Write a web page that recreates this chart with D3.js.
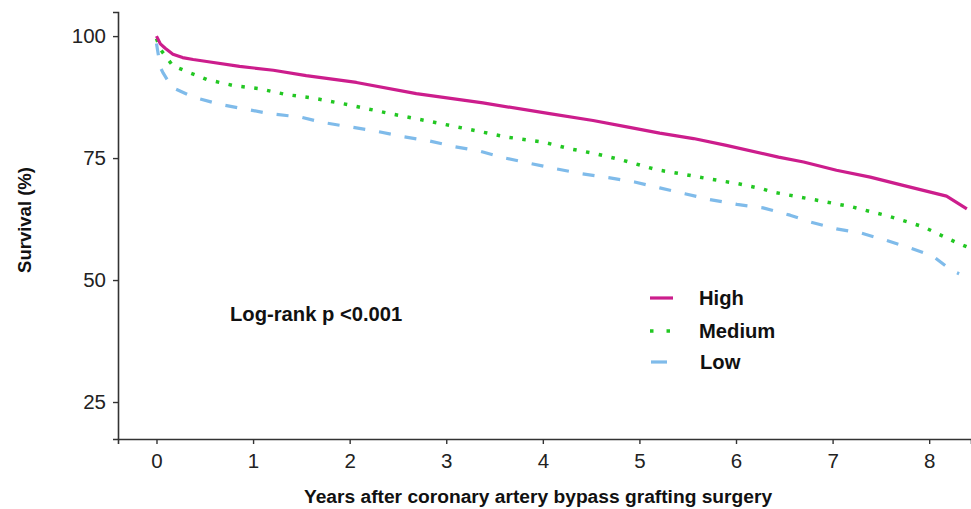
<!DOCTYPE html>
<html>
<head>
<meta charset="utf-8">
<script src="https://cdn.jsdelivr.net/npm/d3@7"></script>
<style>
  body { margin: 0; background: #fff; }
  svg { display: block; font-family: "Liberation Sans", Arial, sans-serif; }
</style>
</head>
<body>
<div id="chart"></div>
<script>
// Survival curves (years, survival %)
const highYears = [0, 0.04, 0.09, 0.17, 0.27, 0.38, 0.52, 0.86, 1.21, 1.55, 2.07, 2.69, 3.38, 4.07, 4.52, 4.87, 5.21, 5.56, 5.9, 6.44, 6.7, 7.04, 7.39, 7.73, 8.18, 8.39];
const highSurv  = [100, 98.4, 97.5, 96.3, 95.6, 95.2, 94.8, 93.8, 93.0, 91.9, 90.5, 88.2, 86.3, 84.1, 82.7, 81.4, 80.1, 79.0, 77.6, 75.2, 74.2, 72.5, 71.1, 69.4, 67.2, 64.6];

const medYears = [0, 0.04, 0.17, 0.52, 0.79, 1.07, 1.35, 1.62, 2.02, 2.42, 2.81, 3.21, 3.63, 4.0, 4.28, 4.52, 4.8, 5.18, 5.45, 5.73, 6.01, 6.27, 6.39, 6.8, 7.2, 7.58, 7.94, 8.27, 8.39];
const medSurv  = [99.5, 97.3, 93.9, 91.1, 89.9, 89.2, 88.0, 87.3, 85.8, 84.1, 82.6, 81.0, 79.3, 78.3, 76.9, 76.0, 74.7, 72.6, 71.7, 70.7, 69.8, 68.7, 68.0, 66.5, 65.0, 63.1, 60.9, 57.8, 56.8];

const lowYears = [0, 0.04, 0.07, 0.16, 0.38, 0.66, 0.93, 1.17, 1.49, 1.72, 2.0, 2.28, 2.55, 2.83, 3.07, 3.35, 3.61, 3.87, 4.14, 4.4, 4.68, 4.95, 5.21, 5.47, 5.73, 6.01, 6.28, 6.56, 6.77, 7.04, 7.3, 7.56, 7.8, 8.04, 8.23, 8.31];
const lowSurv  = [98.5, 93.6, 92.4, 89.5, 87.5, 86.0, 85.0, 84.1, 83.4, 82.3, 81.4, 80.5, 79.4, 78.5, 77.4, 76.4, 75.0, 73.9, 72.8, 71.8, 71.0, 70.1, 68.9, 67.7, 66.5, 65.5, 64.8, 63.3, 61.9, 60.5, 59.6, 58.1, 56.6, 54.9, 52.0, 51.3];

const groups = ["High", "Medium", "Low"];
const xTicks = [0, 1, 2, 3, 4, 5, 6, 7, 8];
const yTicks = [25, 50, 75, 100];

const width = 971, height = 509;
const svg = d3.select("#chart").append("svg")
  .attr("width", width)
  .attr("height", height);

// scales fitted to the reference pixel grid
const x = d3.scaleLinear().domain([-0.3985, 8.433]).range([118, 971]);
const y = d3.scaleLinear().domain([17.42, 104.94]).range([439, 12]);

const styles = {
  High:   { color: "#cc1d8c", dash: null,    width: 3.2 },
  Medium: { color: "#22c722", dash: "3.5,9.5", width: 3.5 },
  Low:    { color: "#7fbbea", dash: "12,14", width: 3.2 }
};

const series = [
  { name: "High",   pts: highYears.map((t, i) => [t, highSurv[i]]) },
  { name: "Medium", pts: medYears.map((t, i) => [t, medSurv[i]]) },
  { name: "Low",    pts: lowYears.map((t, i) => [t, lowSurv[i]]) }
];

const line = d3.line().x(d => x(d[0])).y(d => y(d[1]));

// curves (low first so high sits on top)
svg.append("g").selectAll("path")
  .data(series.slice().reverse())
  .join("path")
  .attr("fill", "none")
  .attr("stroke", d => styles[d.name].color)
  .attr("stroke-width", d => styles[d.name].width)
  .attr("stroke-dasharray", d => styles[d.name].dash)
  .attr("stroke-linejoin", "round")
  .attr("d", d => line(d.pts));

// axes
const xAxis = svg.append("g")
  .attr("transform", `translate(0,${y.range()[0]})`)
  .call(d3.axisBottom(x).tickValues(xTicks).tickSize(5).tickPadding(9));
const yAxis = svg.append("g")
  .attr("transform", `translate(${x.range()[0]},0)`)
  .call(d3.axisLeft(y).tickValues(yTicks).tickSize(5).tickPadding(7));

[xAxis, yAxis].forEach(a => {
  a.select(".domain").attr("stroke", "#333").attr("stroke-width", 1.6);
  a.selectAll(".tick line").attr("stroke", "#333").attr("stroke-width", 1.4);
  a.selectAll(".tick text")
    .attr("fill", "#222")
    .style("font-size", "20.5px")
    .style("font-family", "'Liberation Sans', Arial, sans-serif");
});

// axis titles
svg.append("text")
  .attr("x", 538)
  .attr("y", 503)
  .attr("text-anchor", "middle")
  .style("font-size", "19.2px")
  .style("font-weight", "bold")
  .attr("fill", "#111")
  .text("Years after coronary artery bypass grafting surgery");

svg.append("text")
  .attr("transform", "translate(31,220) rotate(-90)")
  .attr("text-anchor", "middle")
  .style("font-size", "18.5px")
  .style("font-weight", "bold")
  .attr("fill", "#111")
  .text("Survival (%)");

// p-value annotation
svg.append("text")
  .attr("x", 230)
  .attr("y", 321)
  .style("font-size", "20.2px")
  .style("font-weight", "bold")
  .attr("fill", "#111")
  .text("Log-rank p <0.001");

// legend
const legend = svg.append("g");
const legendY = [298, 331, 362];
const legendKeys = {
  High:   [650, 673],
  Medium: [650, 671],
  Low:    [651, 667]
};
groups.forEach((g, i) => {
  const row = legend.append("g");
  row.append("line")
    .attr("x1", legendKeys[g][0]).attr("x2", legendKeys[g][1])
    .attr("y1", legendY[i]).attr("y2", legendY[i])
    .attr("stroke", styles[g].color)
    .attr("stroke-width", styles[g].width)
    .attr("stroke-dasharray", g === "Medium" ? "3.5,13" : null);
  row.append("text")
    .attr("x", g === "Low" ? 700 : 699)
    .attr("y", legendY[i] + 6.5)
    .style("font-size", "20.2px")
    .style("font-weight", "bold")
    .attr("fill", "#111")
    .text(g);
});
</script>
</body>
</html>
